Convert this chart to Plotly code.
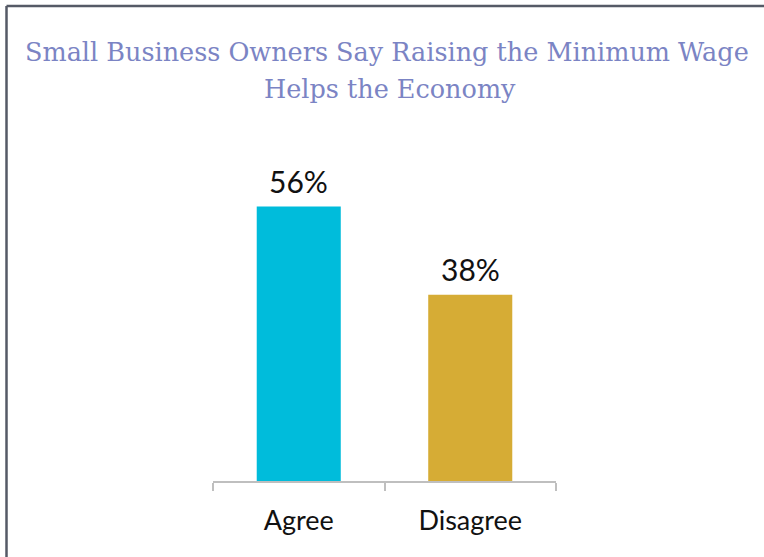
import plotly.graph_objects as go

categories = ["Agree", "Disagree"]
values = [56, 38]
value_labels = ["56%", "38%"]
bar_colors = ["#00BCDB", "#D6AC35"]
title_lines = ["Small Business Owners Say Raising the Minimum Wage", "Helps the Economy"]

W, H = 764, 557
L, R, T, B = 213, 208, 138, 76
pw, ph = W - L - R, H - T - B

fig = go.Figure(go.Bar(
    x=categories, y=values,
    marker=dict(color=bar_colors, line=dict(width=0)),
    width=0.49,
    cliponaxis=False,
    hoverinfo="skip",
))

def px_x(px):
    return (px - L) / pw

def px_y(py):
    return (H - B - py) / ph

annotations = [
    dict(text=lab, x=c, y=v, xref="x", yref="y", xanchor="center", yanchor="bottom",
         yshift=6, showarrow=False,
         font=dict(family="Lato", size=30, color="#111111"))
    for c, v, lab in zip(categories, values, value_labels)
]
annotations += [
    dict(text=title_lines[0], xref="paper", yref="paper", x=px_x(387), y=px_y(52),
         xanchor="center", yanchor="middle", showarrow=False,
         font=dict(family="DejaVu Serif", size=25.5, color="#7B84C4")),
    dict(text=title_lines[1], xref="paper", yref="paper", x=px_x(390), y=px_y(89),
         xanchor="center", yanchor="middle", showarrow=False,
         font=dict(family="DejaVu Serif", size=25.5, color="#7B84C4")),
]

fig.update_layout(
    width=W, height=H,
    margin=dict(l=L, r=R, t=T, b=B),
    paper_bgcolor="white", plot_bgcolor="white",
    showlegend=False,
    xaxis=dict(
        showline=True, linecolor="#BFBFBF", linewidth=1.5,
        ticks="outside", tickson="boundaries", ticklen=8, tickcolor="#BFBFBF", tickwidth=1.5,
        tickfont=dict(family="Lato", size=27, color="#111111"),
        ticklabelstandoff=15,
        showgrid=False, zeroline=False,
    ),
    yaxis=dict(range=[0, 70], visible=False, showgrid=False, zeroline=False),
    shapes=[
        dict(type="line", xref="paper", yref="paper", x0=px_x(6.5), x1=px_x(W + 5),
             y0=px_y(6), y1=px_y(6), line=dict(color="#555A66", width=2.5)),
        dict(type="line", xref="paper", yref="paper", x0=px_x(6.5), x1=px_x(6.5),
             y0=px_y(6), y1=px_y(H + 5), line=dict(color="#555A66", width=2.5)),
    ],
    annotations=annotations,
)

fig.write_html(
    "out.html",
    config={"displayModeBar": False},
    post_script="document.body.style.margin='0';document.body.style.overflow='hidden';",
)
